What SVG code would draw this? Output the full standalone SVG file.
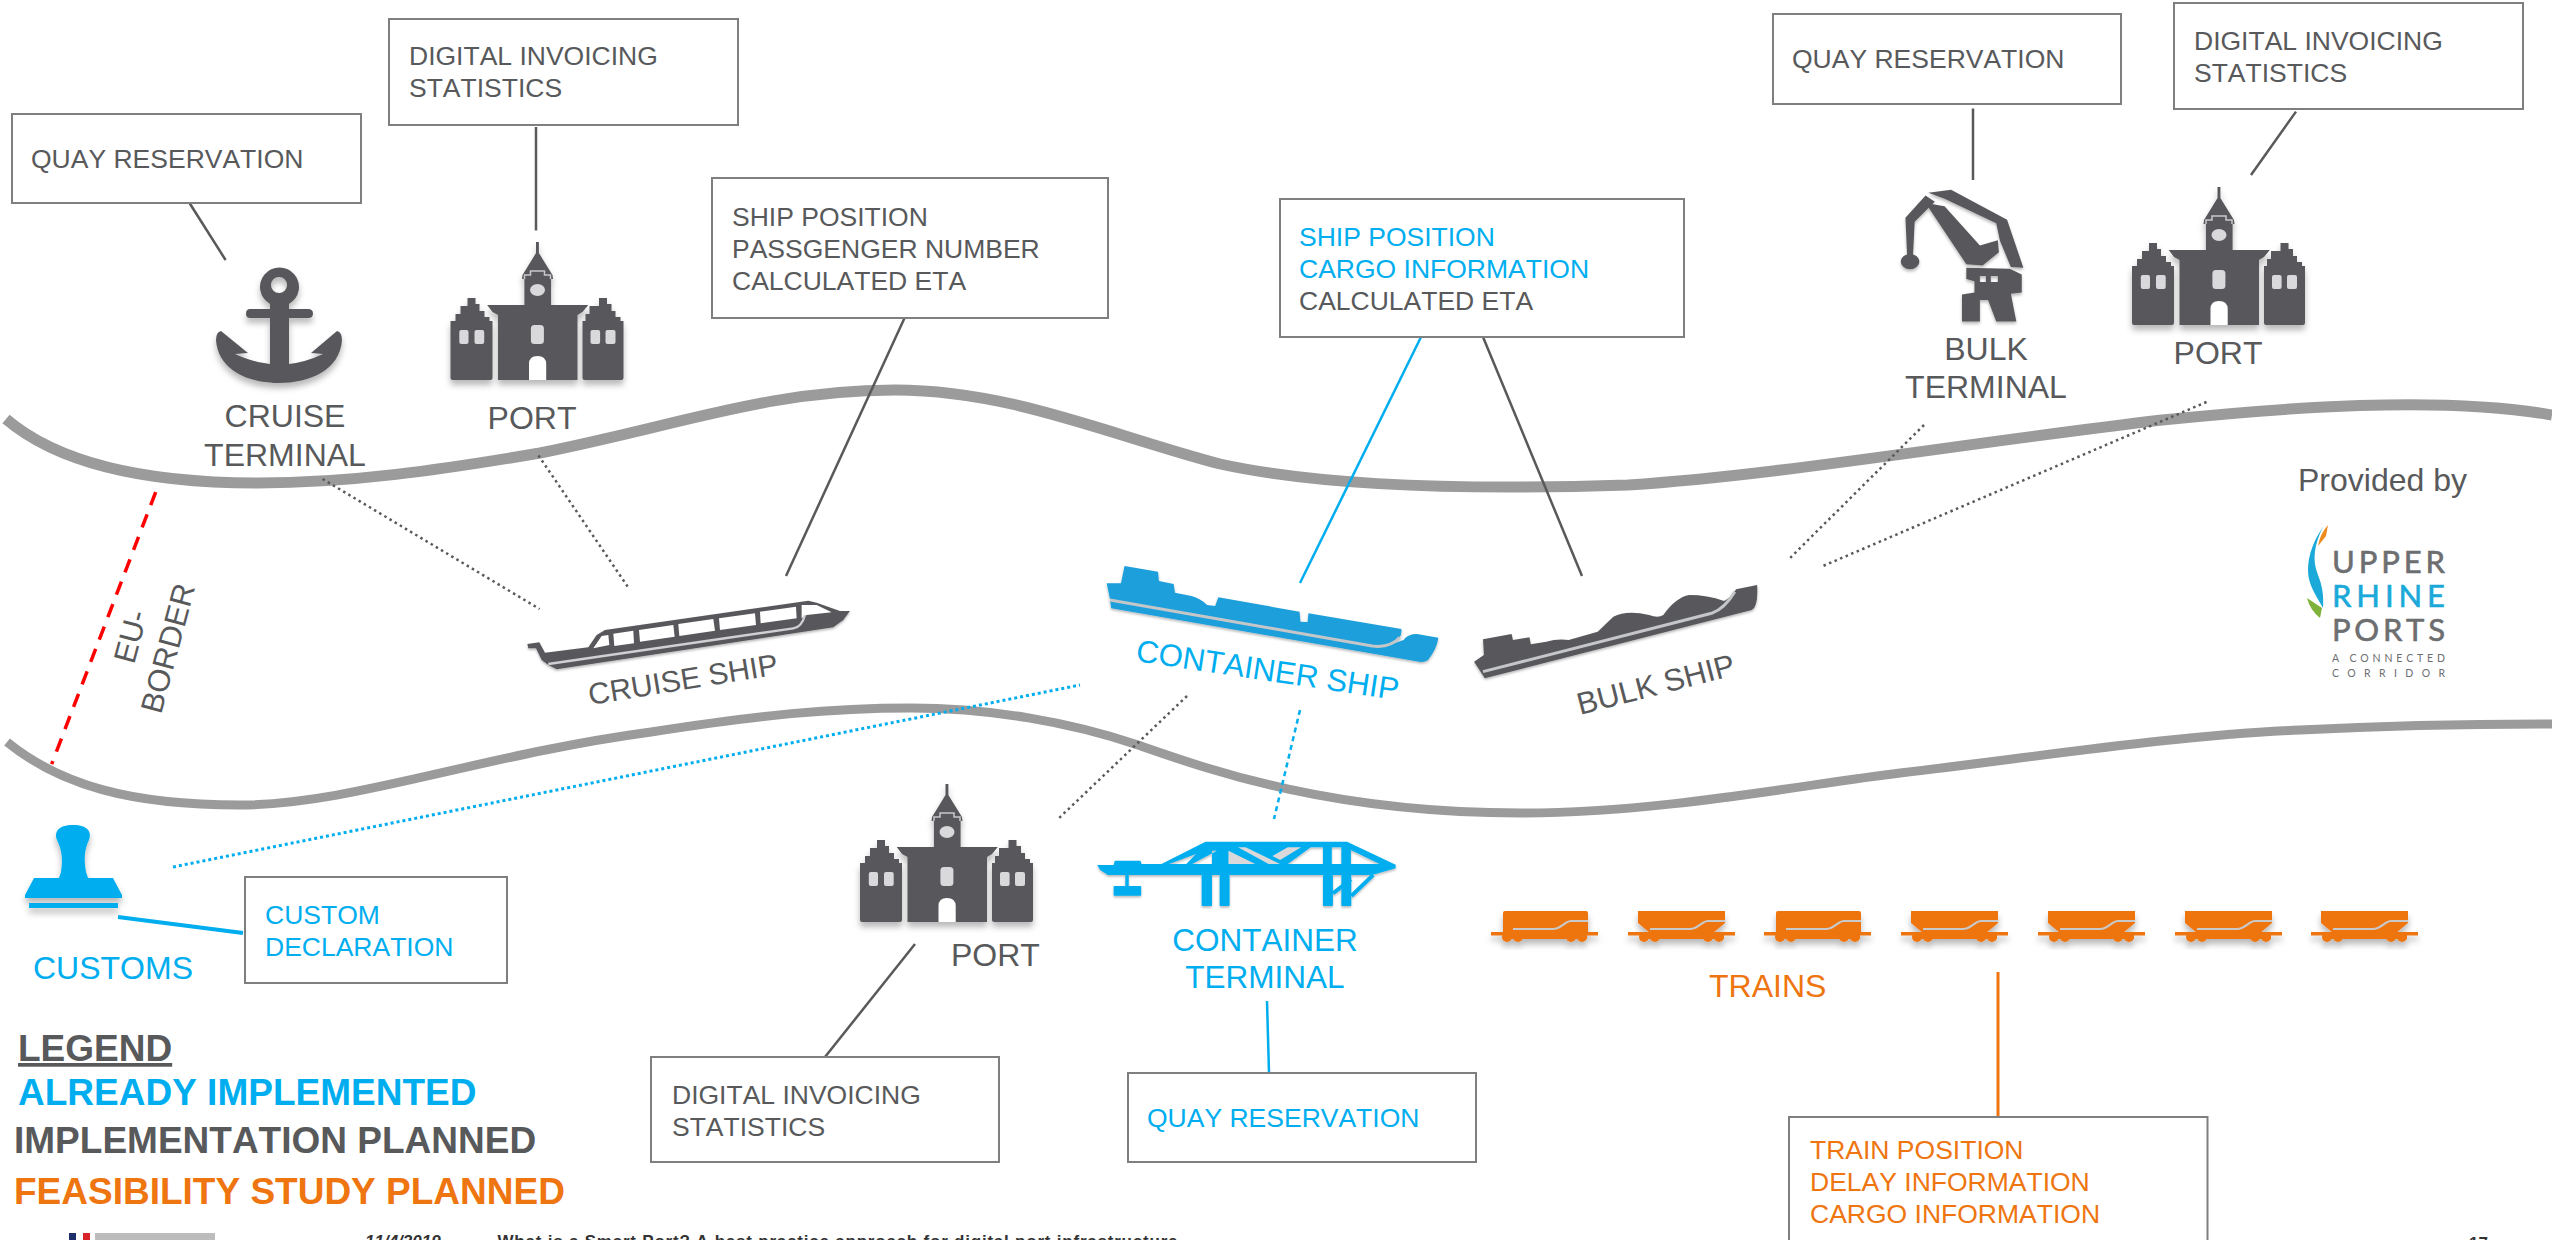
<svg xmlns="http://www.w3.org/2000/svg" xmlns:xlink="http://www.w3.org/1999/xlink" width="2552" height="1240" viewBox="0 0 2552 1240">
<style>
text{font-family:"Liberation Sans",Arial,sans-serif;font-kerning:none}
.t26{font-size:26.5px}.t32{font-size:32px}
.mid{text-anchor:middle}
.dk{fill:#58595b}.cy{fill:#00aeef}.or{fill:#ee750f}
.leg{font-size:37px;font-weight:bold}
.box{fill:#fff;stroke:#7f7f80;stroke-width:2}
.river{fill:none;stroke:#9b9b9b}
.r1{stroke-width:11}.r2{stroke-width:9}
.c{fill:none;stroke-width:2.5}
.sd{stroke:#58595b}.sc{stroke:#00aeef}.so{stroke:#ee750f}
.dot{stroke-dasharray:2.5 3.5}
.ic{filter:url(#sh)}
.ls{fill:none;stroke:#c5c6c8;stroke-width:3;vector-effect:non-scaling-stroke}
.lg{font-family:Lato,"Liberation Sans",sans-serif;fill:#6d6e70}
</style>
<defs>
<filter id="sh" x="-15%" y="-15%" width="130%" height="140%"><feDropShadow dx="0" dy="5" stdDeviation="3" flood-color="#000" flood-opacity=".28"/></filter>
<g id="portIcon" class="ic">
<path fill="#58595b" d="M85.500 0H88.400V11L102 33 102.500 37H100.600V63H137.800L132 70 127 73V138H47.500V73L42 70 36.700 63H73.900V37H71.500L72 33 85.500 11Z"/>
<path fill="#58595b" d="M17 56H25V62H29V69H34V75H39V79H42V136Q42 138 40 138H2Q0 138 0 136V79H5V72H10V64H17Z"/>
<path fill="#58595b" d="M148.500 56H156.500V62H161V69H165V75H170V79H173V136Q173 138 171 138H134Q132 138 132 136V79H135V72H139V64H148.500Z"/>
<path fill="none" stroke="#c8c8ca" stroke-width="1.500" d="M74 37V33H80V29H94V33H100V37"/>
<g fill="#d9d9db"><ellipse cx="87" cy="48" rx="7.500" ry="6"/><rect x="80.400" y="83" width="13" height="19" rx="3.500"/><rect x="8.800" y="88" width="9.200" height="14" rx="2"/><rect x="24" y="88" width="9.700" height="14" rx="2"/><rect x="140" y="88" width="9.600" height="14" rx="2"/><rect x="155" y="88" width="10" height="14" rx="2"/></g>
<path fill="#fff" d="M78.500 138V122Q78.500 114 87 114T95.700 122V138Z"/>
</g>
<g id="wh"><rect x="0" y="21" width="107" height="3.500"/><rect x="12" y="24" width="84" height="4"/><circle cx="16" cy="26" r="5"/><circle cx="27" cy="26" r="5"/><circle cx="80" cy="26" r="5"/><circle cx="91" cy="26" r="5"/></g>
<g id="wagA"><path d="M12 2Q12 0 14 0H95Q97 0 97 2V22H12Z"/><use xlink:href="#wh" href="#wh"/><path fill="none" stroke="#c9c9c9" stroke-width="2" d="M22 18H62C70 18 74 10 80 10H97"/></g>
<g id="wagB"><path d="M10 0H97V12L85 22H22L10 12Z"/><use xlink:href="#wh" href="#wh"/><path fill="none" stroke="#c9c9c9" stroke-width="2" d="M22 18H62C70 18 74 10 80 10H97"/></g>
</defs>

<g id="rivers">
<path class="river r1" d="M6 419C60 465 150 483 258 483C350 483 440 470 540 453C680 425 770 390 895 390C1010 390 1110 435 1220 464C1330 488 1480 490 1628 485C1780 475 1950 445 2162 420C2280 408 2440 395 2552 415"/>
<path class="river r2" d="M7 742C60 785 130 805 240 805C350 805 480 755 651 732C760 715 830 708 911 708C990 708 1070 722 1138 745C1210 770 1330 813 1520 813C1660 813 1800 785 1900 773C2050 755 2180 735 2300 730C2400 725 2480 724 2552 724"/>
</g>

<g id="connectors">
<path class="c sd" d="M189.500 203L225.600 260"/>
<path class="c sd" d="M536 127V230.500"/>
<path class="c sd" d="M905 317L786 576"/>
<path class="c sd" d="M1483 337L1582 576"/>
<path class="c sc" d="M1421 337L1300 583"/>
<path class="c sd" d="M1973 108.500V180"/>
<path class="c sd" d="M2296 111.600L2251 175"/>
<path class="c sd" d="M915 944L825 1057"/>
<path class="c sc" d="M1267 1001L1269 1073"/>
<path class="c so" style="stroke-width:3" d="M1998 972V1117"/>
<path class="c sc" style="stroke-width:4" d="M118 917L243 933"/>
<path class="c sd dot" d="M322.600 479L539.600 609"/>
<path class="c sd dot" d="M538.500 455.500L628.600 588"/>
<path class="c sd dot" d="M1924 425L1790 558"/>
<path class="c sd dot" d="M2206.500 402L1820.600 567"/>
<path class="c sd dot" d="M1187 696L1057 820"/>
<path class="c sc dot" style="stroke-width:3;stroke-dasharray:3 3" d="M173 867L1080 685"/>
<path class="c sc" style="stroke-dasharray:5 4" d="M1300 710L1274 819"/>
<path fill="none" stroke="#ff0000" stroke-width="3.500" stroke-dasharray="14 10" d="M155.700 492L51.700 764"/>
</g>

<g id="box-quay-cruise"><rect class="box" x="12" y="114" width="349" height="89"/><text class="t26 dk" x="31" y="168">QUAY RESERVATION</text></g>
<g id="box-invoice-cruise"><rect class="box" x="389" y="19" width="349" height="106"/><text class="t26 dk" x="409" y="65">DIGITAL INVOICING</text><text class="t26 dk" x="409" y="97">STATISTICS</text></g>
<g id="box-cruise-ship"><rect class="box" x="712" y="178" width="396" height="140"/><text class="t26 dk" x="732" y="226">SHIP POSITION</text><text class="t26 dk" x="732" y="258">PASSGENGER NUMBER</text><text class="t26 dk" x="732" y="290">CALCULATED ETA</text></g>
<g id="box-container-ship"><rect class="box" x="1280" y="199" width="404" height="138"/><text class="t26 cy" x="1278" y="246" dx="21">SHIP POSITION</text><text class="t26 cy" x="1299" y="278">CARGO INFORMATION</text><text class="t26 dk" x="1299" y="310">CALCULATED ETA</text></g>
<g id="box-quay-bulk"><rect class="box" x="1773" y="14" width="348" height="90"/><text class="t26 dk" x="1792" y="68">QUAY RESERVATION</text></g>
<g id="box-invoice-bulk"><rect class="box" x="2174" y="3" width="349" height="106"/><text class="t26 dk" x="2194" y="50">DIGITAL INVOICING</text><text class="t26 dk" x="2194" y="82">STATISTICS</text></g>
<g id="box-custom"><rect class="box" x="245" y="877" width="262" height="106"/><text class="t26 cy" x="265" y="924">CUSTOM</text><text class="t26 cy" x="265" y="956">DECLARATION</text></g>
<g id="box-invoice-port"><rect class="box" x="651" y="1057" width="348" height="105"/><text class="t26 dk" x="672" y="1104">DIGITAL INVOICING</text><text class="t26 dk" x="672" y="1136">STATISTICS</text></g>
<g id="box-quay-container"><rect class="box" x="1128" y="1073" width="348" height="89"/><text class="t26 cy" x="1147" y="1127">QUAY RESERVATION</text></g>
<g id="box-train"><rect class="box" x="1789" y="1117" width="418.500" height="140"/><text class="t26 or" x="1810" y="1159">TRAIN POSITION</text><text class="t26 or" x="1810" y="1191">DELAY INFORMATION</text><text class="t26 or" x="1810" y="1223">CARGO INFORMATION</text></g>

<g id="cruise-terminal">
<g class="ic" fill="#58595b"><path fill-rule="evenodd" d="M270 304V309H250Q246 309 246 313.500Q246 318 250 318H270V364Q252 362 235 354L248 353L221 331Q216 332 216 340C218 370 248 383 279 383C310 383 340 370 342 340Q342 332 337 331L311 353L323 354Q306 362 289 364V318H308Q313 318 313 313.500Q313 309 308 309H289V304A19.500 19.500 0 1 0 270 304ZM279 277A8 8 0 1 1 279 293A8 8 0 1 1 279 277Z"/></g>
<text class="t32 dk mid" x="285" y="427">CRUISE</text><text class="t32 dk mid" x="285" y="466">TERMINAL</text></g>
<g id="port-cruise"><use xlink:href="#portIcon" href="#portIcon" x="450.500" y="242"/><text class="t32 dk mid" x="532" y="429">PORT</text></g>

<g id="bulk-terminal">
<g class="ic" fill="#58595b" transform="translate(1700 0) scale(.5435 .4464)">
<path d="M378 488L415 438L432 452L395 497L392 570A17 17 0 1 1 381 570Z"/>
<path d="M420 432L462 425L565 492L595 600L572 598L552 540L545 500L450 445Z"/>
<path d="M415 455L450 462L515 550L548 538L550 565L520 595L490 592Z"/>
<path fill-rule="evenodd" d="M490 600L570 602L592 615V655L572 658L582 720H545L530 672H515V720H482V660L505 655V630L490 625ZM515 618V632H526V618ZM535 618V632H548V618Z"/>
</g>
<text class="t32 dk mid" x="1986" y="360">BULK</text><text class="t32 dk mid" x="1986" y="398">TERMINAL</text></g>
<g id="port-bulk"><use xlink:href="#portIcon" href="#portIcon" x="2132" y="187"/><text class="t32 dk mid" x="2218" y="364">PORT</text></g>

<g id="cruise-ship">
<g class="ic" transform="translate(500 540) scale(.3333)">
<path fill="#58595b" d="M82 312L118 307L135 338L265 322L290 285L315 270L925 182L950 188L1020 213L1050 213L1030 240L1000 262L170 388L145 375L125 360L108 325L85 325Z"/>
<path fill="#fff" d="M280 325L305 288L325 285L328 315ZM340 281L400 272L402 310L343 318ZM417 270L520 255L524 290L420 305ZM535 252L640 237L645 272L538 288ZM657 235L765 220L768 255L660 270ZM780 215L888 200L890 235L782 250ZM905 195L950 195L995 217L920 225L905 235Z"/>
<path fill="none" stroke="#d0d0d2" stroke-width="7" d="M145 372L880 265Q905 262 915 225"/>
</g>
<text class="dk" font-size="30" transform="translate(590 705) rotate(-9.200)">CRUISE SHIP</text></g>

<g id="container-ship">
<g class="ic" transform="translate(1100 520) scale(.4464 .3333)">
<path fill="#1e9fdb" d="M55 138L130 155L132 183L165 192L168 218L205 228Q225 235 240 255L258 258L265 232L447 275L449 305L465 306L467 280L675 327Q678 355 655 372L680 360Q690 342 710 342L758 353Q755 385 735 420Q725 428 715 425L25 265L22 235L15 190L47 190Z"/>
<path class="ls" d="M22 240L610 378Q650 385 672 352"/>
</g>
<text class="cy" font-size="31.200" transform="translate(1135 661) rotate(8.500)">CONTAINER SHIP</text></g>

<g id="bulk-ship">
<g class="ic" transform="translate(1100 520) scale(.4464 .3333)">
<path fill="#58595b" d="M1472 195L1425 208Q1412 235 1398 243Q1360 225 1320 225Q1290 232 1262 285Q1250 295 1230 285Q1180 270 1150 290L1115 335L1050 360Q1025 355 1000 365L965 373L962 352L925 360L922 342L858 358L860 405L838 425L862 475L1460 270Q1475 260 1472 195Z"/>
<path class="ls" d="M858 455L1370 280Q1400 265 1422 215"/>
</g>
<text class="dk" font-size="31" transform="translate(1580 715) rotate(-14.500)">BULK SHIP</text></g>

<g id="customs">
<g class="ic" fill="#00aeef"><path d="M73 825C58 825 54 832 57 840C62 850 63 860 61 872L59 878H34L25 895V898H122V895L113 878H88L86 872C84 860 84 850 89 840C92 832 88 825 73 825Z"/><rect x="29" y="903" width="89" height="5"/></g>
<text class="t32 cy" x="33" y="979">CUSTOMS</text></g>

<g id="port-south"><use xlink:href="#portIcon" href="#portIcon" x="860" y="784"/><text class="t32 dk" x="951" y="966">PORT</text></g>

<g id="container-terminal">
<g class="ic" transform="translate(840 760) scale(.3827 .3333)">
<path fill="#d9d9db" d="M1015 262H1230L1150 310H1015Z"/>
<path fill="#00aeef" fill-rule="evenodd" d="M672 315H715L718 302H785L788 312H840L955 245H1325L1452 314V325L1390 345H700L680 330Z M930 282L860 312H905ZM985 272L920 312H972V272ZM1015 262V312H1085L1015 272ZM1040 262L1120 312H1150L1060 262ZM1130 288L1150 300L1205 262H1170ZM1230 262L1170 312H1262V262ZM1285 262V312H1310V262ZM1335 270V312H1410Z"/>
<rect fill="#00aeef" x="945" y="345" width="27" height="93" rx="2"/><rect fill="#00aeef" x="992" y="345" width="26" height="93" rx="2"/><rect fill="#00aeef" x="1262" y="345" width="26" height="93" rx="2"/><rect fill="#00aeef" x="1310" y="345" width="26" height="93" rx="2"/>
<path fill="none" stroke="#00aeef" stroke-width="11" d="M1336 408L1393 345M1288 400L1335 358"/>
<path fill="none" stroke="#00aeef" stroke-width="9" d="M750 345V380"/>
<rect fill="#00aeef" x="715" y="378" width="72" height="29" rx="2"/>
</g>
<text class="cy mid" font-size="31.500" x="1265" y="951">CONTAINER</text><text class="cy mid" font-size="31.500" x="1265" y="988">TERMINAL</text></g>

<g id="trains">
<g class="ic" fill="#ee750f">
<use xlink:href="#wagA" href="#wagA" x="1491" y="911"/>
<use xlink:href="#wagB" href="#wagB" x="1628" y="911"/>
<use xlink:href="#wagA" href="#wagA" x="1764" y="911"/>
<use xlink:href="#wagB" href="#wagB" x="1901" y="911"/>
<use xlink:href="#wagB" href="#wagB" x="2038" y="911"/>
<use xlink:href="#wagB" href="#wagB" x="2175" y="911"/>
<use xlink:href="#wagB" href="#wagB" x="2311" y="911"/>
</g>
<text class="t32 or" x="1709" y="997">TRAINS</text></g>

<text class="dk" font-size="31" transform="translate(134 665) rotate(-75)">EU-</text>
<text class="dk" font-size="31" transform="translate(161 715) rotate(-75)">BORDER</text>

<g id="legend">
<text class="leg dk" x="18" y="1061" text-decoration="underline">LEGEND</text>
<text class="leg cy" x="18" y="1105">ALREADY IMPLEMENTED</text>
<text class="leg dk" x="14" y="1153">IMPLEMENTATION PLANNED</text>
<text class="leg or" x="14" y="1204">FEASIBILITY STUDY PLANNED</text>
</g>

<g id="provider">
<text class="t32 dk" x="2298" y="491">Provided by</text>
<path fill="#1aa9d8" d="M2323 527C2314 540 2308 555 2308 570C2308 585 2316 595 2323 608C2324 595 2322 585 2318 575C2312 560 2314 545 2323 527Z"/>
<path fill="#ee8a1e" d="M2328 525L2326 536L2318 546Q2320 534 2328 525Z"/>
<path fill="#7fb23a" d="M2307 598Q2316 604 2322 608L2320 618Q2310 610 2307 598Z"/>
<text class="lg" stroke="#6d6e70" stroke-width=".6" font-size="31" x="2332" y="573" textLength="113" lengthAdjust="spacing">UPPER</text>
<text class="lg" style="fill:#1aa9d8" stroke="#1aa9d8" stroke-width=".6" font-size="31" x="2332" y="607" textLength="113" lengthAdjust="spacing">RHINE</text>
<text class="lg" stroke="#6d6e70" stroke-width=".6" font-size="31" x="2332" y="641" textLength="113" lengthAdjust="spacing">PORTS</text>
<text class="lg" font-size="10.500" x="2332" y="662" textLength="113" lengthAdjust="spacing">A CONNECTED</text>
<text class="lg" font-size="10.500" x="2332" y="677" textLength="113" lengthAdjust="spacing">CORRIDOR</text>
</g>

<g id="footer">
<rect x="69" y="1233" width="7" height="7" fill="#1d2e6b"/><rect x="76" y="1233" width="7" height="7" fill="#fff"/><rect x="83" y="1233" width="7" height="7" fill="#d8232a"/>
<rect x="95" y="1233" width="120" height="7" fill="#bdbcbc"/>
<text x="365" y="1247" font-size="17" font-weight="bold" font-style="italic" fill="#333">11/4/2019</text>
<text x="497.500" y="1247" font-size="17" font-weight="bold" fill="#333" textLength="680">What is a Smart Port? A best practice approach for digital port infrastructure</text>
<text x="2469" y="1249" font-size="17" font-weight="bold" fill="#333">17</text>
</g>
</svg>
